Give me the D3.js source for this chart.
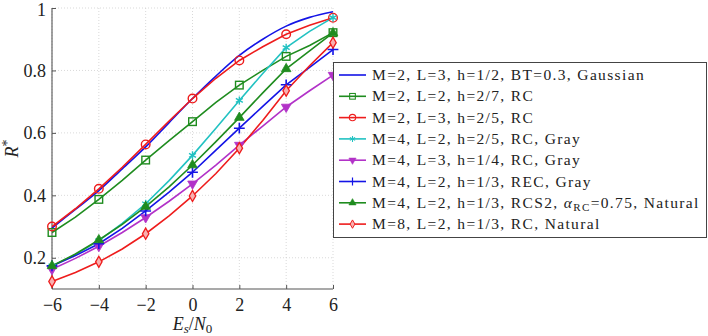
<!DOCTYPE html>
<html>
<head>
<meta charset="utf-8">
<script src="https://cdn.jsdelivr.net/npm/d3@7"></script>
</head>
<body style="margin:0">
<div id="chart"></div>
<script>
// Es/N0 grid (dB)
var snr = [-6, -5, -4, -3, -2, -1, 0, 1, 2, 3, 4, 5, 6]
var xTicks = [-6, -4, -2, 0, 2, 4, 6]
var yTicks = [0.2, 0.4, 0.6, 0.8, 1]

var gaussian = [0.295, 0.355, 0.415, 0.485, 0.555, 0.633, 0.71, 0.782, 0.848, 0.90, 0.942, 0.970, 0.988]
var m2l2rc = [0.281, 0.33, 0.387, 0.448, 0.513, 0.575, 0.636, 0.698, 0.753, 0.80, 0.845, 0.88, 0.921]
var m2l3rc = [0.30, 0.357, 0.421, 0.49, 0.563, 0.638, 0.71, 0.775, 0.832, 0.876, 0.916, 0.945, 0.969]
var m4l2rcGray = [0.174, 0.21, 0.255, 0.31, 0.373, 0.447, 0.528, 0.615, 0.704, 0.79, 0.873, 0.925, 0.969]
var m4l3rcGray = [0.163, 0.198, 0.237, 0.281, 0.329, 0.381, 0.437, 0.497, 0.561, 0.622, 0.683, 0.735, 0.785]
var m4l2recGray = [0.174, 0.207, 0.245, 0.294, 0.35, 0.41, 0.474, 0.545, 0.615, 0.685, 0.754, 0.81, 0.867]
var m4l2rcs2 = [0.174, 0.212, 0.257, 0.307, 0.364, 0.427, 0.497, 0.572, 0.649, 0.728, 0.805, 0.863, 0.92]
var m8l2rc = [0.124, 0.153, 0.187, 0.228, 0.277, 0.334, 0.398, 0.47, 0.551, 0.64, 0.735, 0.815, 0.889]

var labels = [
    "M=2, L=3, h=1/2, BT=0.3, Gaussian",
    "M=2, L=2, h=2/7, RC",
    "M=2, L=3, h=2/5, RC",
    "M=4, L=2, h=2/5, RC, Gray",
    "M=4, L=3, h=1/4, RC, Gray",
    "M=4, L=2, h=1/3, REC, Gray",
    "M=4, L=2, h=1/3, RCS2, αRC=0.75, Natural",
    "M=8, L=2, h=1/3, RC, Natural"
]

var series = [
    { values: gaussian, color: "#1414e6", mark: null },
    { values: m2l2rc, color: "#1f8c1f", mark: "square" },
    { values: m2l3rc, color: "#ee1c1c", mark: "circle" },
    { values: m4l2rcGray, color: "#22c2c2", mark: "asterisk" },
    { values: m4l3rcGray, color: "#b232c8", mark: "tridown" },
    { values: m4l2recGray, color: "#1414e6", mark: "plus" },
    { values: m4l2rcs2, color: "#1f8c1f", mark: "triup" },
    { values: m8l2rc, color: "#ee1c1c", mark: "diamond" }
]

var W = 708, H = 336
var plot = { left: 52, right: 333, top: 8, bottom: 289 }
var FONT = "Liberation Serif"

var svg = d3.select("#chart").append("svg")
    .attr("width", W)
    .attr("height", H)

var x = d3.scaleLinear().domain([-6, 6]).range([plot.left, plot.right])
var y = d3.scaleLinear().domain([0.1, 1]).range([plot.bottom, plot.top])

// grid
var grid = svg.append("g")
    .attr("stroke", "#cfcfcf")
    .attr("stroke-width", 0.8)
    .attr("stroke-dasharray", "1,2")
grid.selectAll(".gx").data(xTicks).enter().append("line")
    .attr("x1", d => x(d)).attr("x2", d => x(d))
    .attr("y1", plot.top).attr("y2", plot.bottom)
grid.selectAll(".gy").data(yTicks).enter().append("line")
    .attr("x1", plot.left).attr("x2", plot.right)
    .attr("y1", d => y(d)).attr("y2", d => y(d))

// axes
var xAxis = svg.append("g")
    .attr("transform", "translate(0," + plot.bottom + ")")
    .call(d3.axisBottom(x).tickValues(xTicks).tickSize(-4).tickPadding(9)
        .tickFormat(d => d < 0 ? "\u2212" + (-d) : d))
var yAxis = svg.append("g")
    .attr("transform", "translate(" + plot.left + ",0)")
    .call(d3.axisLeft(y).tickValues(yTicks).tickSize(-4).tickPadding(6)
        .tickFormat(d => d === 1 ? "1" : d3.format(".1f")(d)))

xAxis.attr("font-family", FONT)
yAxis.attr("font-family", FONT)
svg.selectAll(".domain").attr("stroke", "#555").attr("stroke-width", 1.1)
svg.selectAll(".tick line").attr("stroke", "#555")
svg.selectAll(".tick text").attr("fill", "#222").attr("font-size", 18)
yAxis.select(".tick:last-of-type text").attr("dy", "0.42em")
xAxis.select(".domain").attr("d", "M" + plot.left + ",0H" + plot.right)
yAxis.select(".domain").attr("d", "M0," + plot.top + "V" + plot.bottom)

// lines
var line = d3.line()
    .x((d, i) => x(snr[i]))
    .y(d => y(d))

series.forEach(function (s, k) {
    line.curve(k === 0 ? d3.curveMonotoneX : d3.curveLinear)
    svg.append("path")
        .datum(s.values)
        .attr("fill", "none")
        .attr("stroke", s.color)
        .attr("stroke-width", 1.6)
        .attr("d", line)
})

function drawMark(g, type, color) {
    if (type === "circle") {
        g.append("circle").attr("r", 4.3).attr("fill", "none").attr("stroke", color).attr("stroke-width", 1.4)
    } else if (type === "square") {
        g.append("rect").attr("x", -3.8).attr("y", -3.8).attr("width", 7.6).attr("height", 7.6)
            .attr("fill", "none").attr("stroke", color).attr("stroke-width", 1.4)
    } else if (type === "asterisk") {
        g.append("path").attr("d", d3.symbol(d3.symbolAsterisk, 45)())
            .attr("fill", "none").attr("stroke", color).attr("stroke-width", 1.4)
    } else if (type === "plus") {
        g.append("path").attr("d", d3.symbol(d3.symbolPlus, 40)())
            .attr("fill", "none").attr("stroke", color).attr("stroke-width", 1.6)
    } else if (type === "triup") {
        g.append("path").attr("d", d3.symbol(d3.symbolTriangle, 40)())
            .attr("fill", color).attr("stroke", color).attr("stroke-width", 0.8)
    } else if (type === "tridown") {
        g.append("path").attr("d", d3.symbol(d3.symbolTriangle, 40)())
            .attr("fill", color).attr("stroke", color).attr("stroke-width", 0.8)
            .attr("transform", "rotate(180)")
    } else if (type === "diamond") {
        g.append("path").attr("d", d3.symbol(d3.symbolDiamond, 36)())
            .attr("fill", "#f9b0b0").attr("stroke", color).attr("stroke-width", 1.3)
    }
}

series.forEach(function (s) {
    if (!s.mark) return
    snr.forEach(function (v, i) {
        if (v % 2 !== 0) return
        var g = svg.append("g").attr("transform", "translate(" + x(v) + "," + y(s.values[i]) + ")")
        drawMark(g, s.mark, s.color)
    })
})

// axis labels
svg.append("text")
    .attr("x", (plot.left + plot.right) / 2)
    .attr("y", 330)
    .attr("text-anchor", "middle")
    .attr("font-size", 18)
    .attr("fill", "#222")
    .html('<tspan font-style="italic">E</tspan><tspan font-style="italic" font-size="13" dy="3">s</tspan><tspan dy="-3">/</tspan><tspan font-style="italic">N</tspan><tspan font-size="13" dy="3">0</tspan>')

svg.append("text")
    .attr("transform", "translate(18," + ((plot.top + plot.bottom) / 2) + ") rotate(-90)")
    .attr("text-anchor", "middle")
    .attr("font-size", 18)
    .attr("fill", "#222")
    .html('<tspan font-style="italic">R</tspan><tspan font-size="14" dy="-6">*</tspan>')

// legend
var leg = { x: 333, y: 62, w: 374, h: 175, row: 21.3 }
var lg = svg.append("g")
lg.append("rect")
    .attr("x", leg.x + 0.5).attr("y", leg.y + 0.5)
    .attr("width", leg.w - 1).attr("height", leg.h)
    .attr("fill", "#fff").attr("stroke", "#444").attr("stroke-width", 1)

var texts = []
series.forEach(function (s, k) {
    var cy = leg.y + 13 + k * leg.row
    lg.append("line")
        .attr("x1", leg.x + 6).attr("x2", leg.x + 33)
        .attr("y1", cy).attr("y2", cy)
        .attr("stroke", s.color).attr("stroke-width", 1.6)
    if (s.mark) {
        var mg = lg.append("g").attr("transform", "translate(" + (leg.x + 19.5) + "," + cy + ") scale(0.75)")
        drawMark(mg, s.mark, s.color)
    }
    var t = lg.append("text")
        .attr("x", leg.x + 39)
        .attr("y", cy + 5)
        .attr("font-size", 15.5)
        .attr("fill", "#222")
    if (k === 6) {
        t.html('M=4, L=2, h=1/3, RCS2, <tspan font-style="italic">α</tspan><tspan font-size="11" dy="3">RC</tspan><tspan dy="-3">=0.75, Natural</tspan>')
    } else {
        t.text(labels[k])
    }
    texts.push(t)
})

// serif font on every text and tspan element directly
svg.selectAll("text, tspan")
    .attr("font-family", FONT)
    .style("font-family", FONT)

// widen letter spacing so the first entry spans the reference width
var w0 = texts[0].node().getComputedTextLength()
var ls = Math.max(0, (273 - w0) / labels[0].length)
texts.forEach(t => t.attr("letter-spacing", ls))
</script>
</body>
</html>
